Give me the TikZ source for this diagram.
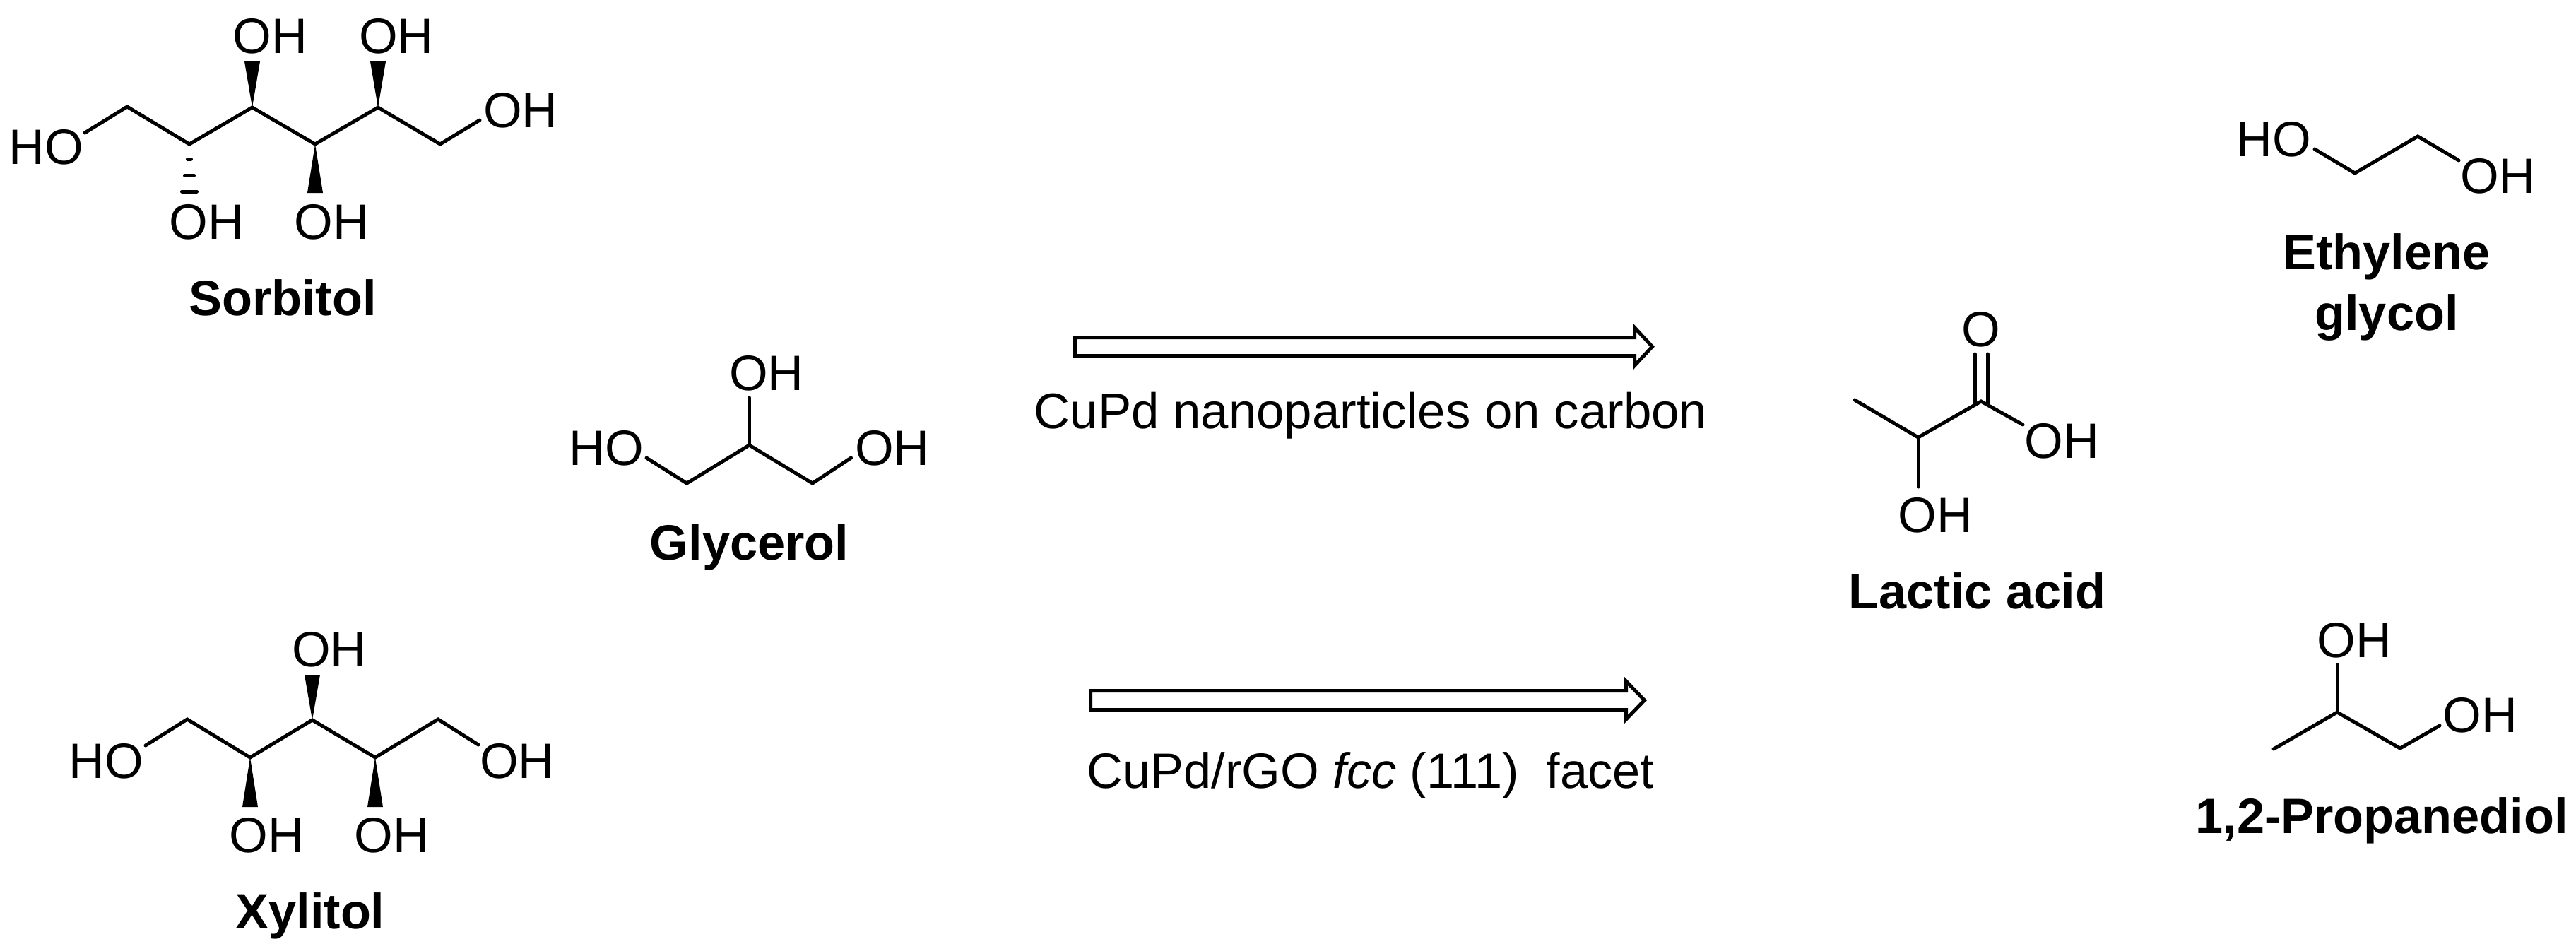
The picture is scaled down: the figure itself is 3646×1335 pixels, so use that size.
\documentclass[tikz,border=0pt]{standalone}
\usepackage{fontspec}
\setmainfont{Liberation Sans}

\begin{document}
\begin{tikzpicture}[x=0.1mm, y=-0.1mm,
every node/.style={inner sep=0pt, anchor=base, font=\fontsize{20}{24}\selectfont},
chemname/.style={font=\fontsize{20}{24.47}\selectfont\bfseries},
bond/.style={line width=0.5mm, line cap=round, miter limit=20},
hollowarrow/.style={line width=0.5mm, fill=white, miter limit=20}
]
\useasboundingbox (0,0) rectangle (3646,1335);

% sorbitol
\coordinate (sa) at (120,188); \coordinate (s1) at (180,151); \coordinate (s2) at (268,204);
\coordinate (s3) at (357,152); \coordinate (s4) at (446,204); \coordinate (s5) at (535,152);
\coordinate (s6) at (623,204); \coordinate (sb) at (679,170);
\coordinate (w3) at (357,87);  \coordinate (w4) at (446,273); \coordinate (w5) at (535,87);
\node (sHOl) at (65,232) {HO};
\node (sOHa) at (382.5,75) {OH};
\node (sOHb) at (561,75) {OH};
\node (sOHr) at (737,180) {OH};
\node (sOHc) at (292.5,338) {OH};
\node (sOHd) at (469.5,338) {OH};
\node[chemname] (sorbitol) at (400,446) {Sorbitol};
\draw[bond] (sa) -- (s1) -- (s2) -- (s3) -- (s4) -- (s5) -- (s6) -- (sb);
% hashed bond
\foreach \d/\w in {21/2.5, 44/6.5, 67/10.5}
    \draw[bond] (s2) ++(-\w,\d) -- ++(2*\w,0);

% xylitol
\coordinate (xa) at (206,1055); \coordinate (x1) at (265,1018); \coordinate (x2) at (354,1072);
\coordinate (x3) at (442,1019); \coordinate (x4) at (531,1072); \coordinate (x5) at (620,1018);
\coordinate (xb) at (677,1054);
\coordinate (v2) at (354,1142); \coordinate (v3) at (442,955);  \coordinate (v4) at (531,1142);
\node (xHOl) at (150.5,1101) {HO};
\node (xOHa) at (466,943) {OH};
\node (xOHr) at (732,1101) {OH};
\node (xOHc) at (377.5,1206) {OH};
\node (xOHd) at (554.5,1206) {OH};
\node[chemname] (xylitol) at (439,1314) {Xylitol};
\draw[bond] (xa) -- (x1) -- (x2) -- (x3) -- (x4) -- (x5) -- (xb);

% wedges of both chains
\foreach \i/\j in {s3/w3, s4/w4, s5/w5, x2/v2, x3/v3, x4/v4}
    \fill (\i) -- ([xshift=-1.1mm]\j) -- ([xshift=1.1mm]\j) -- cycle;

% glycerol
\coordinate (ga) at (915,648); \coordinate (g1) at (972,684); \coordinate (g2) at (1060.5,630);
\coordinate (g3) at (1150,684); \coordinate (gb) at (1204.5,648); \coordinate (gc) at (1060.5,563);
\node (gHOl) at (858,658) {HO};
\node (gOHa) at (1085,552) {OH};
\node (gOHr) at (1263,658) {OH};
\node[chemname] (glycerol) at (1060.5,792) {Glycerol};
\draw[bond] (ga) -- (g1) -- (g2) -- (g3) -- (gb);
\draw[bond] (g2) -- (gc);

% reaction arrows
\coordinate (arrAs) at (1521.5,490.5); \coordinate (arrAt) at (2338.5,490.5);
\coordinate (arrBs) at (1543.5,991);   \coordinate (arrBt) at (2327.5,991);
\draw[hollowarrow] (arrAs) ++(0,-13) -- ++(792,0) -- ++(0,-14) -- (arrAt) -- ++(-25,27)
    -- ++(0,-14) -- ++(-792,0) -- cycle;
\draw[hollowarrow] (arrBs) ++(0,-13.5) -- ++(758,0) -- ++(0,-13.5) -- (arrBt) -- ++(-26,27)
    -- ++(0,-13.5) -- ++(-758,0) -- cycle;
\node[font=\fontsize{20.15}{24}\selectfont] (condA) at (1940,606) {CuPd nanoparticles on carbon};
\node (condB) at (1940,1115) {CuPd/rGO \textit{fcc} (111)\ \ facet};

% lactic acid
\coordinate (la) at (2625,566); \coordinate (l1) at (2715,619); \coordinate (l2) at (2804,568);
\coordinate (lb) at (2863,601); \coordinate (lc) at (2715,689);
\coordinate (ld) at (2795,573); \coordinate (le) at (2795,501);
\coordinate (lf) at (2813,573); \coordinate (lg) at (2813,501);
\node (lO)   at (2804,490) {O};
\node (lOHr) at (2918,648) {OH};
\node (lOHd) at (2739.5,753) {OH};
\node[chemname] (lactic) at (2798.5,861) {Lactic acid};
\draw[bond] (la) -- (l1) -- (l2) -- (lb);
\foreach \i/\j in {l1/lc, ld/le, lf/lg}
    \draw[bond] (\i) -- (\j);

% ethylene glycol
\coordinate (ea) at (3276,211); \coordinate (e1) at (3333,245);
\coordinate (e2) at (3422,193); \coordinate (eb) at (3480,227);
\node (eHO) at (3218.5,221) {HO};
\node (eOH) at (3535,273) {OH};
\node[chemname, align=center] (ethylene) at (3378,467) {Ethylene\\glycol};
\draw[bond] (ea) -- (e1) -- (e2) -- (eb);

% 1,2-propanediol
\coordinate (pa) at (3218,1060); \coordinate (p1) at (3308,1008); \coordinate (p2) at (3397,1059);
\coordinate (pb) at (3453,1027); \coordinate (pc) at (3308,941);
\node (pOHa) at (3332,930) {OH};
\node (pOHr) at (3510,1036) {OH};
\node[chemname] (propanediol) at (3371,1179) {1,2-Propanediol};
\draw[bond] (pa) -- (p1) -- (p2) -- (pb);
\draw[bond] (p1) -- (pc);
\end{tikzpicture}
\end{document}
